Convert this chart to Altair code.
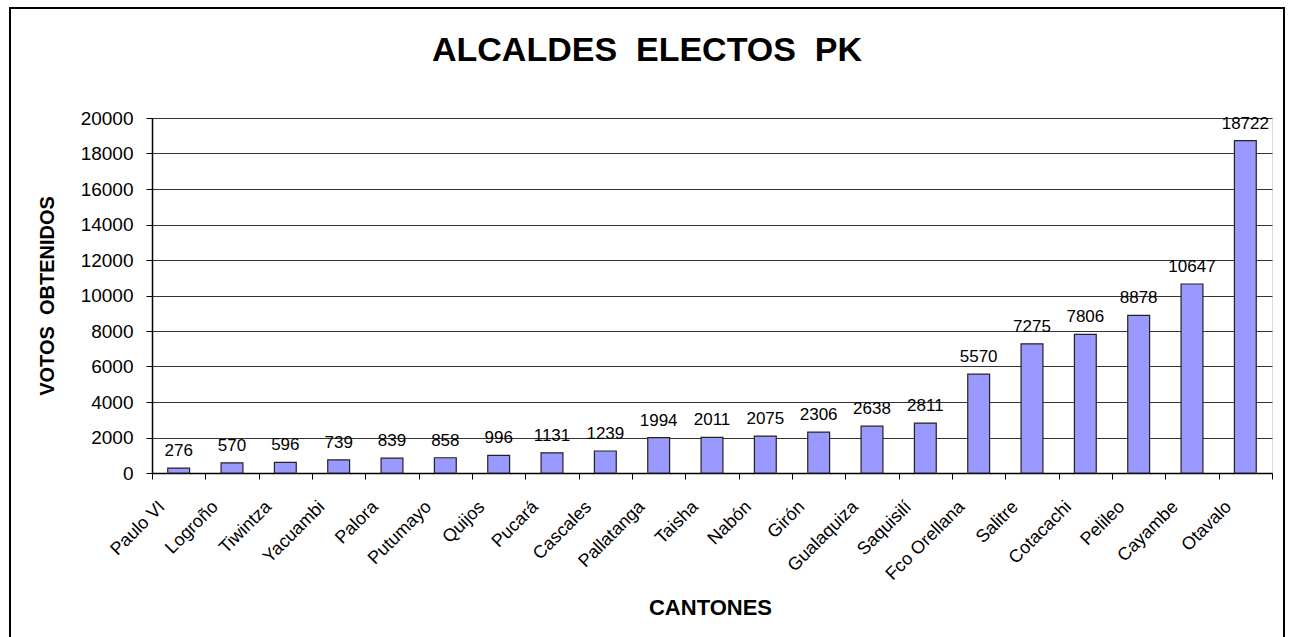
import altair as alt
import pandas as pd

# Cantons and votes obtained by the elected mayors
cantones = ["Paulo VI", "Logroño", "Tiwintza", "Yacuambi", "Palora", "Putumayo",
            "Quijos", "Pucará", "Cascales", "Pallatanga", "Taisha", "Nabón",
            "Girón", "Gualaquiza", "Saquisilí", "Fco Orellana", "Salitre",
            "Cotacachi", "Pelileo", "Cayambe", "Otavalo"]
votos = [276, 570, 596, 739, 839, 858, 996, 1131, 1239, 1994, 2011, 2075,
         2306, 2638, 2811, 5570, 7275, 7806, 8878, 10647, 18722]
y_ticks = [0, 2000, 4000, 6000, 8000, 10000, 12000, 14000, 16000, 18000, 20000]

NB = "\u00a0"  # non-breaking space keeps the wide word gaps in SVG text
titulo = f"ALCALDES{NB*2}ELECTOS{NB*2}PK"
titulo_y = f"VOTOS{NB*2}OBTENIDOS"

df = pd.DataFrame({"canton": cantones, "votos": votos})

FONT = "Liberation Sans"
W, H = 1120, 355          # plot area
LEFT, TOP = 152, 118      # plot area offset inside the figure

x_enc = alt.X(
    "canton:N", sort=None,
    scale=alt.Scale(paddingInner=0, paddingOuter=0),
    axis=alt.Axis(
        title="CANTONES", titleFont=FONT, titleFontSize=22, titleFontWeight="bold",
        titleColor="black", titleX=558, titleY=134, titleBaseline="middle",
        labelAngle=-45, labelAlign="right", labelBaseline="middle",
        labelOffset=-17, labelPadding=25, labelFont=FONT, labelFontSize=18,
        labelColor="black", tickBand="extent", tickSize=6, tickColor="black",
        domainColor="black", domainWidth=1.5, labelOverlap=False,
    ),
)
y_enc = alt.Y(
    "votos:Q",
    scale=alt.Scale(domain=[0, 20000], nice=False),
    axis=alt.Axis(
        title=titulo_y, titleFont=FONT, titleFontSize=20,
        titleFontWeight="bold", titleColor="black", titleX=-105, titleY=H / 2,
        titleAngle=270, titleAlign="center", titleBaseline="middle",
        values=y_ticks, format="d", labelFont=FONT, labelFontSize=19,
        labelColor="black", labelPadding=13, tickSize=6, tickColor="black",
        domainColor="black", domainWidth=1.5, grid=True, gridColor="#333333",
        gridWidth=1,
    ),
)

base = alt.Chart(df).encode(x=x_enc, y=y_enc)

bars = base.mark_bar(
    width=alt.RelativeBandSize(0.41), fill="#9999FF", stroke="#222222",
    strokeWidth=1.2,
)
labels = base.mark_text(
    dy=-12, baseline="alphabetic", font=FONT, fontSize=17, color="black",
).encode(text="votos:Q")

one = alt.Chart(pd.DataFrame({"k": [0]}))

# Outer frame around the whole figure
frame = one.mark_rect(
    fill="white", fillOpacity=0, stroke="black", strokeWidth=2,
).encode(
    x=alt.value(10 - LEFT), x2=alt.value(1284 - LEFT),
    y=alt.value(8 - TOP), y2=alt.value(700),
)

# Figure heading, centred on the frame
heading = one.mark_text(
    text=titulo, font=FONT, fontSize=34, fontWeight="bold", color="black",
    align="center", baseline="alphabetic",
).encode(x=alt.value(647 - LEFT), y=alt.value(61 - TOP))

chart = alt.layer(bars, labels, frame, heading).properties(
    width=W, height=H,
    autosize=alt.AutoSizeParams(type="none"),
    padding={"left": LEFT, "top": TOP, "right": 1292 - LEFT - W,
             "bottom": 637 - TOP - H},
).configure_view(
    stroke="#999999", strokeWidth=1.5,
).configure(background="white")

chart.save("out.html", embed_options={"renderer": "svg", "actions": False})
